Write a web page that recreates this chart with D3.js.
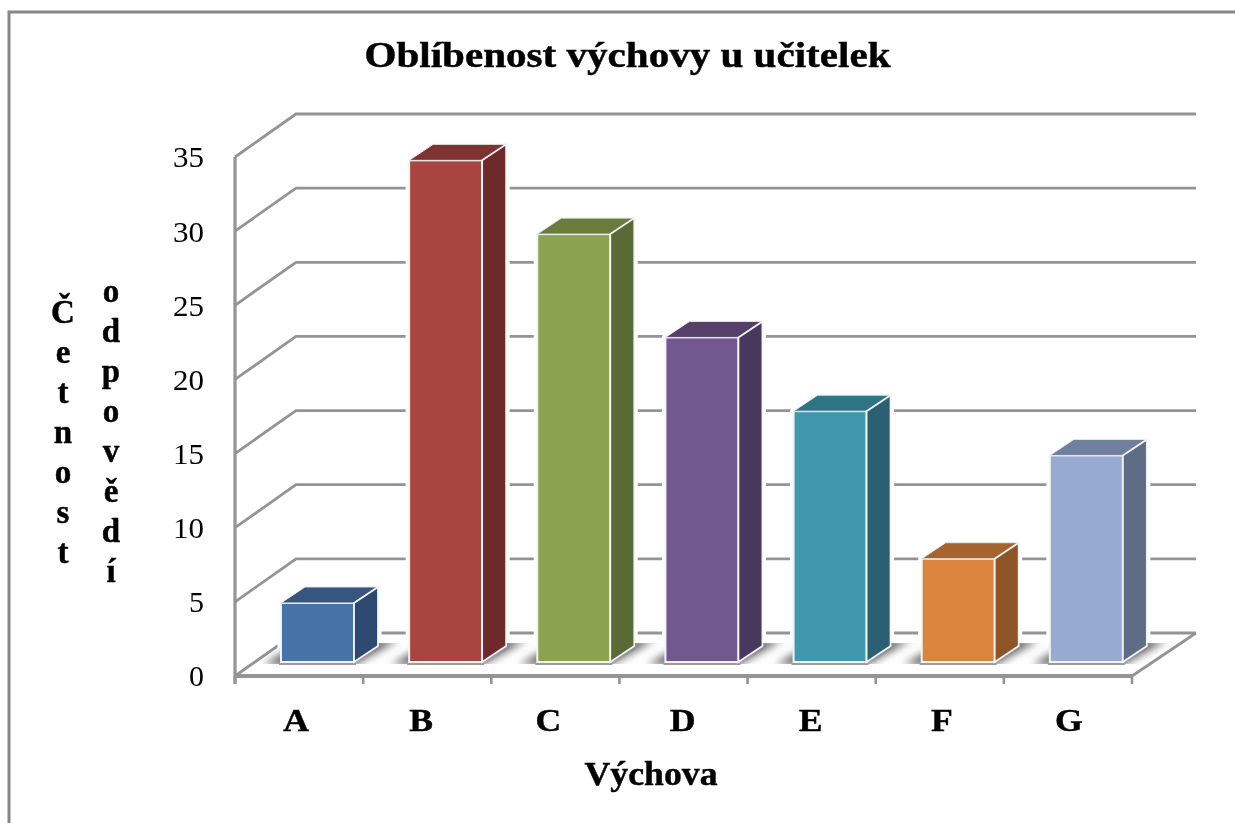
<!DOCTYPE html>
<html><head><meta charset="utf-8">
<script src="https://cdn.jsdelivr.net/npm/d3@7/dist/d3.min.js"></script>
<style>html,body{margin:0;padding:0;background:#fff;overflow:hidden}
text{font-family:"Liberation Serif",serif;fill:#000}
text.b{stroke:#000;stroke-width:0.45px}</style></head>
<body><svg id="c" width="1235" height="823"></svg>
<script>
const categories = ["A","B","C","D","E","F","G"];
const values = [4,34,29,22,17,7,14];
const faceColors = ["#4672a8","#a94441","#8ba34f","#71588f","#4198af","#db843d","#97aad2"];
const topColors  = ["#34567f","#7f3230","#697b3b","#54416b","#2f7485","#a5632d","#707f9e"];
const sideColors = ["#2d4a70","#6e2c2a","#5a6a34","#48375d","#2a6172","#8d5527","#5e6c86"];
const yTicks = [0,5,10,15,20,25,30,35];
const titleText = "Oblíbenost výchovy u učitelek";
const xTitle = "Výchova";
const yTitleA = "Četnost";
const yTitleB = "odpovědí";

const svg = d3.select("#c");
const defs = svg.append("defs");
const soft = defs.append("filter").attr("id","soft").attr("filterUnits","userSpaceOnUse").attr("x",0).attr("y",0).attr("width",1235).attr("height",823);
soft.append("feGaussianBlur").attr("stdDeviation",0.6);
const sh = defs.append("filter").attr("id","sh").attr("x","-30%").attr("y","-80%").attr("width","160%").attr("height","260%");
sh.append("feGaussianBlur").attr("stdDeviation",4);
defs.append("clipPath").attr("id","floorClip").append("rect").attr("x",235).attr("y",643).attr("width",960).attr("height",21);

const root = svg.append("g").attr("filter","url(#soft)");
const x0=235,x1=1132,y0=676,y35=157, wallX=61, wallY=-43;
const x = d3.scaleBand().domain(categories).range([x0,x1]);
const y = d3.scaleLinear().domain([0,35]).range([y0,y35]);
const grey="#949494";
const barScale=0.995;
const xLabelShift=[-3,-6,-7,-1,-1,2,1];

// outer frame
root.append("path").attr("d","M9,823V12H1235").attr("fill","none").attr("stroke","#878787").attr("stroke-width",3);

// gridlines + back wall
root.append("g").selectAll("path").data(yTicks).join("path")
  .attr("d",v=>`M${x0},${y(v)}L${x0+wallX},${y(v)+wallY}H${x1+wallX+3}`)
  .attr("fill","none").attr("stroke",grey).attr("stroke-width",2.8);
// floor right edge
root.append("path").attr("d",`M${x1},${y0}L${x1+wallX+3},${y0+wallY}`).attr("fill","none").attr("stroke",grey).attr("stroke-width",2.8);

// axes
const yAxis = d3.axisLeft(y).tickValues(yTicks).tickSize(0).tickPadding(31);
const gy = root.append("g").attr("transform",`translate(${x0},0)`).call(yAxis);
gy.select(".domain").attr("stroke",grey).attr("stroke-width",3.2).attr("d",`M0,${y35}V${y0+8}`);
gy.selectAll("text").attr("font-size",30).attr("font-family","Liberation Serif").attr("fill","#000")
  .attr("dy","0.33em").attr("textLength",d=>d<10?15:31).attr("lengthAdjust","spacingAndGlyphs");

const xAxis = d3.axisBottom(x).tickSize(0).tickPadding(33);
const gx = root.append("g").attr("transform",`translate(0,${y0})`).call(xAxis);
gx.select(".domain").attr("stroke",grey).attr("stroke-width",3.8).attr("d",`M${x0},0H${x1}`);
gx.selectAll("text").attr("class","b").attr("font-size",31).attr("font-weight","bold").attr("font-family","Liberation Serif").attr("dy","0.71em")
  .attr("dx",(d,i)=>xLabelShift[i])
  .each(function(){const n=this.getComputedTextLength();d3.select(this).attr("textLength",n*1.15).attr("lengthAdjust","spacingAndGlyphs");});
root.append("g").selectAll("line").data(d3.range(categories.length+1)).join("line")
  .attr("x1",i=>x0+i*x.step()).attr("x2",i=>x0+i*x.step()).attr("y1",y0).attr("y2",y0+8)
  .attr("stroke",grey).attr("stroke-width",2.6);

// bars
const barW=73, barOffset=46, bdx=24, bdy=-16, floorLift=-14;
const data = categories.map((c,i)=>({c,v:values[i],i}));
const bx = d=>x(d.c)+barOffset;
const base = y(0)+floorLift;
const barTop = d=>base-(y(0)-y(d.v))*barScale;

// white halo behind each bar
root.append("g").selectAll("path").data(data).join("path").attr("fill","#fff").attr("stroke","#fff").attr("stroke-width",7).attr("stroke-linejoin","round")
  .attr("d",d=>`M${bx(d)+barW},${base}L${bx(d)+barW+bdx},${base+bdy}V${barTop(d)+bdy}H${bx(d)+bdx}L${bx(d)},${barTop(d)}V${base}Z`);
// floor shadow
root.append("g").attr("clip-path","url(#floorClip)").selectAll("path").data(data).join("path")
  .attr("filter","url(#sh)").attr("fill","#5e5e5e")
  .attr("d",d=>`M${bx(d)-18},${base+3}H${bx(d)+barW}L${bx(d)+barW+bdx+20},${base+bdy-6}H${bx(d)+bdx}Z`);
// grey contact line under bars
root.append("g").selectAll("line").data(data).join("line")
  .attr("x1",d=>bx(d)-2).attr("x2",d=>bx(d)+barW+2).attr("y1",base+2).attr("y2",base+2)
  .attr("stroke","#9a9a9a").attr("stroke-width",2);

const bars = root.append("g").selectAll("g").data(data).join("g");
bars.append("rect").attr("x",bx).attr("y",barTop).attr("width",barW).attr("height",d=>base-barTop(d))
  .attr("fill",d=>faceColors[d.i]).attr("stroke","#f2f4f6").attr("stroke-width",2);
bars.append("path").attr("fill",d=>topColors[d.i]).attr("stroke","#e8e8e8").attr("stroke-width",1)
  .attr("d",d=>`M${bx(d)},${barTop(d)}L${bx(d)+bdx},${barTop(d)+bdy}H${bx(d)+barW+bdx}L${bx(d)+barW},${barTop(d)}Z`);
bars.append("path").attr("fill",d=>sideColors[d.i]).attr("stroke","#f2f4f6").attr("stroke-width",1.8)
  .attr("d",d=>`M${bx(d)+barW},${barTop(d)}L${bx(d)+barW+bdx},${barTop(d)+bdy}V${base+bdy}L${bx(d)+barW},${base}Z`);

// titles
root.append("text").attr("class","b").attr("x",627.5).attr("y",67).attr("text-anchor","middle").attr("font-size",35).attr("font-weight","bold")
  .attr("textLength",526).attr("lengthAdjust","spacingAndGlyphs").text(titleText);
root.append("text").attr("class","b").attr("x",651).attr("y",785).attr("text-anchor","middle").attr("font-size",34).attr("font-weight","bold")
  .attr("textLength",133).attr("lengthAdjust","spacingAndGlyphs").text(xTitle);
const col=(s,cx,yStart,step)=>root.append("g").selectAll("text").data(Array.from(s)).join("text").attr("class","b")
  .attr("x",cx).attr("y",(d,i)=>yStart+i*step).attr("text-anchor","middle").attr("font-size",33).attr("font-weight","bold").text(d=>d);
col(yTitleA,63,323,40);
col(yTitleB,111,301.5,40);
</script></body></html>
